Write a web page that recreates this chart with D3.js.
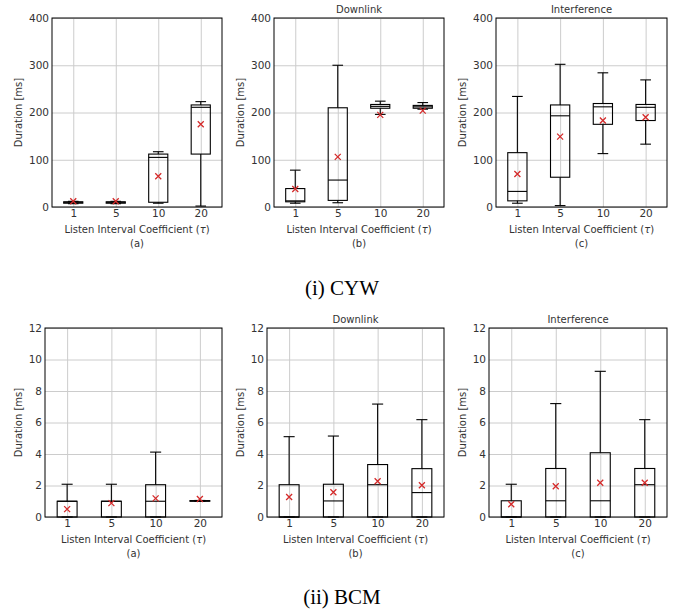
<!DOCTYPE html>
<html>
<head>
<meta charset="utf-8">
<script src="https://cdn.jsdelivr.net/npm/d3@7"></script>
<style>
  body { margin: 0; background: #fff; }
  svg { display: block; }
  .tick text { font-family: "DejaVu Sans", sans-serif; font-size: 10.5px; fill: #333; }
  .lbl { font-family: "DejaVu Sans", sans-serif; font-size: 10px; fill: #333; }
  .caption { font-family: "Liberation Serif", serif; font-size: 21px; fill: #000; }
</style>
</head>
<body>
<div class="canvas"></div>
<script>
// interval coefficients on the x axis
const categories = ['1', '5', '10', '20'];
const cywTicks = [0, 100, 200, 300, 400];
const bcmTicks = [0, 2, 4, 6, 8, 10, 12];

// box stats: whisker low, q1, median, q3, whisker high, mean
const cywIdle = [
  {cat: '1',  lo: 7,   q1: 8,   med: 10,  q3: 11,  hi: 12,  mean: 12},
  {cat: '5',  lo: 7,   q1: 8,   med: 10,  q3: 11,  hi: 12,  mean: 12},
  {cat: '10', lo: 8,   q1: 10,  med: 105, q3: 112, hi: 117, mean: 65},
  {cat: '20', lo: 2,   q1: 112, med: 211, q3: 216, hi: 223, mean: 175}
];
const cywDownlink = [
  {cat: '1',  lo: 8,   q1: 11,  med: 13,  q3: 39,  hi: 78,  mean: 38},
  {cat: '5',  lo: 9,   q1: 14,  med: 57,  q3: 210, hi: 300, mean: 106},
  {cat: '10', lo: 196, q1: 209, med: 213, q3: 217, hi: 224, mean: 195},
  {cat: '20', lo: 207, q1: 209, med: 212, q3: 215, hi: 221, mean: 204}
];
const cywInterf = [
  {cat: '1',  lo: 8,   q1: 13,  med: 33,  q3: 115, hi: 234, mean: 70},
  {cat: '5',  lo: 3,   q1: 63,  med: 193, q3: 216, hi: 302, mean: 149},
  {cat: '10', lo: 113, q1: 175, med: 212, q3: 219, hi: 284, mean: 183},
  {cat: '20', lo: 133, q1: 183, med: 211, q3: 217, hi: 269, mean: 190}
];
const bcmIdle = [
  {cat: '1',  lo: 0, q1: 0, med: 1,    q3: 1,    hi: 2.08, mean: 0.5},
  {cat: '5',  lo: 0, q1: 0, med: 1,    q3: 1,    hi: 2.08, mean: 0.88},
  {cat: '10', lo: 0, q1: 0, med: 1,    q3: 2.05, hi: 4.12, mean: 1.18},
  {cat: '20', lo: 1, q1: 1, med: 1.02, q3: 1.04, hi: 1.05, mean: 1.14}
];
const bcmDownlink = [
  {cat: '1',  lo: 0, q1: 0, med: 0,    q3: 2.05, hi: 5.1,  mean: 1.27},
  {cat: '5',  lo: 0, q1: 0, med: 1.02, q3: 2.08, hi: 5.14, mean: 1.57},
  {cat: '10', lo: 0, q1: 0, med: 2.05, q3: 3.33, hi: 7.17, mean: 2.27},
  {cat: '20', lo: 0, q1: 0, med: 1.55, q3: 3.07, hi: 6.18, mean: 2.02}
];
const bcmInterf = [
  {cat: '1',  lo: 0, q1: 0, med: 0,    q3: 1.03, hi: 2.08, mean: 0.81},
  {cat: '5',  lo: 0, q1: 0, med: 1.03, q3: 3.08, hi: 7.2,  mean: 1.95},
  {cat: '10', lo: 0, q1: 0, med: 1.03, q3: 4.08, hi: 9.25, mean: 2.17},
  {cat: '20', lo: 0, q1: 0, med: 2.05, q3: 3.08, hi: 6.18, mean: 2.17}
];

const svg = d3.select('.canvas')
  .append('svg')
    .attr('width', 684)
    .attr('height', 612);

function drawPanel(data, ticks, title, sub, box) {
  const w = box.right - box.left;
  const h = box.bottom - box.top;
  const graph = svg.append('g')
    .attr('transform', `translate(${box.left}, ${box.top})`);

  // matplotlib-like boxplot positions 1..4 with xlim 0.5..4.5
  const x = d3.scaleLinear().domain([0.5, categories.length + 0.5]).range([0, w]);
  const pos = c => x(categories.indexOf(c) + 1);
  const unit = x(1) - x(0);
  const y = d3.scaleLinear().domain([ticks[0], ticks[ticks.length - 1]]).range([h, 0]);

  const yAxisGroup = graph.append('g')
    .call(d3.axisLeft(y).tickValues(ticks).tickSize(-w).tickPadding(3));
  const xAxisGroup = graph.append('g')
    .attr('transform', `translate(0, ${h})`)
    .call(d3.axisBottom(x).tickValues(categories.map((c, i) => i + 1))
      .tickFormat((d, i) => categories[i]).tickSize(-h).tickPadding(3));

  [yAxisGroup, xAxisGroup].forEach(g => {
    g.select('.domain').remove();
    g.selectAll('.tick line').attr('stroke', '#cccccc').attr('stroke-width', 1);
  });

  const bw = unit * 0.45;
  const cw = unit * 0.25;
  const boxes = graph.selectAll('g.box')
    .data(data)
    .enter()
    .append('g')
      .attr('class', 'box')
      .attr('stroke', '#000')
      .attr('stroke-width', 1.1)
      .attr('fill', 'none');

  boxes.append('line')
    .attr('x1', d => pos(d.cat)).attr('x2', d => pos(d.cat))
    .attr('y1', d => y(d.hi)).attr('y2', d => y(d.q3));
  boxes.append('line')
    .attr('x1', d => pos(d.cat)).attr('x2', d => pos(d.cat))
    .attr('y1', d => y(d.lo)).attr('y2', d => y(d.q1));
  boxes.append('line')
    .attr('x1', d => pos(d.cat) - cw / 2).attr('x2', d => pos(d.cat) + cw / 2)
    .attr('y1', d => y(d.hi)).attr('y2', d => y(d.hi));
  boxes.append('line')
    .attr('x1', d => pos(d.cat) - cw / 2).attr('x2', d => pos(d.cat) + cw / 2)
    .attr('y1', d => y(d.lo)).attr('y2', d => y(d.lo));
  boxes.append('rect')
    .attr('x', d => pos(d.cat) - bw / 2)
    .attr('width', bw)
    .attr('y', d => y(d.q3))
    .attr('height', d => y(d.q1) - y(d.q3));
  boxes.append('line')
    .attr('x1', d => pos(d.cat) - bw / 2).attr('x2', d => pos(d.cat) + bw / 2)
    .attr('y1', d => y(d.med)).attr('y2', d => y(d.med));

  // mean markers
  const m = 3;
  graph.selectAll('path.mean')
    .data(data)
    .enter()
    .append('path')
      .attr('class', 'mean')
      .attr('d', d => {
        const cx = pos(d.cat), cy = y(d.mean);
        return `M${cx - m},${cy - m}L${cx + m},${cy + m}M${cx - m},${cy + m}L${cx + m},${cy - m}`;
      })
      .attr('stroke', '#d42a2a')
      .attr('stroke-width', 1.3)
      .attr('fill', 'none');

  // frame
  graph.append('rect')
    .attr('width', w).attr('height', h)
    .attr('fill', 'none').attr('stroke', '#000').attr('stroke-width', 1);

  // y label sits left of the widest tick label
  let maxW = 0;
  yAxisGroup.selectAll('.tick text').each(function() {
    maxW = Math.max(maxW, this.getComputedTextLength());
  });
  graph.append('text')
    .attr('class', 'lbl')
    .attr('text-anchor', 'middle')
    .attr('transform', `translate(${-(3 + maxW + 7)}, ${h / 2}) rotate(-90)`)
    .text('Duration [ms]');

  const xl = graph.append('text')
    .attr('class', 'lbl')
    .attr('text-anchor', 'middle')
    .attr('x', w / 2).attr('y', h + 25.5)
    .text('Listen Interval Coefficient (');
  xl.append('tspan').attr('font-style', 'italic').text('τ');
  xl.append('tspan').text(')');

  graph.append('text')
    .attr('class', 'lbl')
    .attr('text-anchor', 'middle')
    .attr('x', w / 2).attr('y', h + 39.5)
    .text(sub);

  if (title) {
    graph.append('text')
      .attr('class', 'lbl')
      .attr('text-anchor', 'middle')
      .attr('x', w / 2).attr('y', -5)
      .text(title);
  }
}

drawPanel(cywIdle,     cywTicks, '',             '(a)', {left: 52,  right: 222, top: 18,  bottom: 207});
drawPanel(cywDownlink, cywTicks, 'Downlink',     '(b)', {left: 274, right: 444, top: 18,  bottom: 207});
drawPanel(cywInterf,   cywTicks, 'Interference', '(c)', {left: 496, right: 667, top: 18,  bottom: 207});
drawPanel(bcmIdle,     bcmTicks, '',             '(a)', {left: 45,  right: 222, top: 328, bottom: 517});
drawPanel(bcmDownlink, bcmTicks, 'Downlink',     '(b)', {left: 267, right: 444, top: 328, bottom: 517});
drawPanel(bcmInterf,   bcmTicks, 'Interference', '(c)', {left: 489, right: 667, top: 328, bottom: 517});

svg.append('text')
  .attr('class', 'caption')
  .attr('text-anchor', 'middle')
  .attr('x', 342).attr('y', 295)
  .text('(i) CYW');
svg.append('text')
  .attr('class', 'caption')
  .attr('text-anchor', 'middle')
  .attr('x', 342).attr('y', 604)
  .text('(ii) BCM');
</script>
</body>
</html>
